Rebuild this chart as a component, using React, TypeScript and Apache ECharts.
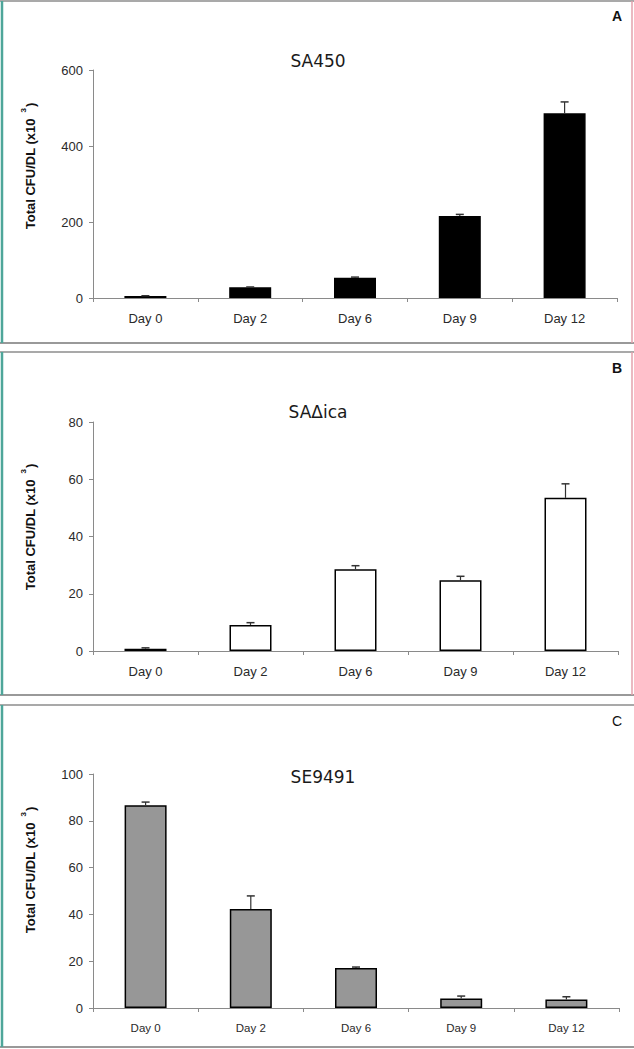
import React, { useEffect, useRef } from "react";
import * as echarts from "echarts";

const categories = ["Day 0", "Day 2", "Day 6", "Day 9", "Day 12"];
const sa450 = [5, 28, 53, 216, 486];
const sa450Err = [1, 1, 2, 4, 30];
const saIca = [0.8, 9.1, 28.6, 24.7, 53.5];
const saIcaErr = [0.3, 0.8, 1.2, 1.4, 4.9];
const se9491 = [86.6, 42.3, 17.1, 4.1, 3.6];
const se9491Err = [1.4, 5.6, 0.4, 1.0, 1.2];
const titles = ["SA450", "SA\u0394ica", "SE9491"];
const letters = ["A", "B", "C"];
const yMax = [600, 80, 100];
const yInterval = [200, 20, 20];

const panels = [
  { vals: sa450, errs: sa450Err, fill: "#000000", grid: { left: 93, top: 70, right: 17, bottom: 751 }, xFont: 13 },
  { vals: saIca, errs: saIcaErr, fill: "#ffffff", grid: { left: 93, top: 422, right: 16, bottom: 398 }, xFont: 13 },
  { vals: se9491, errs: se9491Err, fill: "#979797", grid: { left: 93, top: 774, right: 15, bottom: 41 }, xFont: 11.5 },
];

const AXIS = "#8a8a8a";
const FONT = "'Liberation Sans', Arial, sans-serif";

export default function App() {
  const ref = useRef<HTMLDivElement>(null);
  useEffect(() => {
    if (!ref.current) return;
    const chart = echarts.init(ref.current, null, { renderer: "svg" });
    const grids: any[] = [];
    const xAxes: any[] = [];
    const yAxes: any[] = [];
    const series: any[] = [];
    panels.forEach((p, i) => {
      grids.push({ ...p.grid, containLabel: false });
      xAxes.push({
        type: "category",
        gridIndex: i,
        data: categories,
        boundaryGap: true,
        axisLine: { lineStyle: { color: AXIS, width: 1 } },
        axisTick: { show: true, length: 4, lineStyle: { color: AXIS } },
        axisLabel: { color: "#2a2a2a", fontSize: p.xFont, fontFamily: FONT, margin: 14 },
      });
      yAxes.push({
        type: "value",
        gridIndex: i,
        min: 0,
        max: yMax[i],
        interval: yInterval[i],
        splitLine: { show: false },
        axisLine: { show: true, lineStyle: { color: AXIS, width: 1 } },
        axisTick: { show: true, length: 4, lineStyle: { color: AXIS } },
        axisLabel: { color: "#2a2a2a", fontSize: 13, fontFamily: FONT, margin: 10 },
      });
      series.push({
        type: "bar",
        xAxisIndex: i,
        yAxisIndex: i,
        data: p.vals,
        barWidth: 42,
        itemStyle: { color: p.fill, borderColor: "#000", borderWidth: 1.5 },
        z: 2,
      });
      series.push({
        type: "custom",
        xAxisIndex: i,
        yAxisIndex: i,
        data: p.vals.map((v, k) => [k, v, p.errs[k]]),
        encode: { x: 0, y: 1 },
        z: 3,
        renderItem: (params: any, api: any) => {
          const x = api.value(0);
          const v = api.value(1);
          const e = api.value(2);
          const p0 = api.coord([x, v]);
          const p1 = api.coord([x, v + e]);
          return {
            type: "group",
            children: [
              { type: "line", shape: { x1: p0[0], y1: p0[1], x2: p1[0], y2: p1[1] }, style: { stroke: "#333", lineWidth: 1.2 } },
              { type: "line", shape: { x1: p1[0] - 4, y1: p1[1], x2: p1[0] + 4, y2: p1[1] }, style: { stroke: "#333", lineWidth: 1.5 } },
            ],
          };
        },
      });
    });

    const frames = [
      { top: 1, bottom: 343, right: true },
      { top: 352, bottom: 695, right: true },
      { top: 705, bottom: 1047, right: false },
    ];
    const titleY = [61, 412, 777];
    const titleX = [318, 318, 323];
    const letterY = [16, 368, 721];
    const nameY = [166, 527, 870];
    const graphic: any[] = [];
    frames.forEach((f, i) => {
      graphic.push({ type: "line", shape: { x1: 0, y1: f.top, x2: 634, y2: f.top }, style: { stroke: "#8c8c8c", lineWidth: 1.5 } });
      graphic.push({ type: "line", shape: { x1: 0, y1: f.bottom, x2: 634, y2: f.bottom }, style: { stroke: "#777", lineWidth: 1.5 } });
      graphic.push({ type: "line", shape: { x1: 2, y1: f.top, x2: 2, y2: f.bottom }, style: { stroke: "#4ea69a", lineWidth: 2.5 } });
      if (f.right) {
        graphic.push({ type: "line", shape: { x1: 632, y1: f.top, x2: 632, y2: f.bottom }, style: { stroke: "#e3a2ac", lineWidth: 1.5 } });
      }
      graphic.push({
        type: "text",
        x: titleX[i],
        y: titleY[i],
        style: { text: titles[i], font: "17px 'DejaVu Sans', Verdana, sans-serif", fill: "#1a1a1a", align: "center", verticalAlign: "middle" },
      });
      graphic.push({
        type: "text",
        x: 617,
        y: letterY[i],
        style: {
          text: letters[i],
          font: (i < 2 ? "bold " : "") + "14px 'Liberation Sans', Arial, sans-serif",
          fill: "#111",
          align: "center",
          verticalAlign: "middle",
        },
      });
      graphic.push({
        type: "text",
        x: 28,
        y: nameY[i],
        rotation: Math.PI / 2,
        style: {
          text: "{a|Total CFU/DL (x10}{s|3}{a|)}",
          align: "center",
          verticalAlign: "middle",
          rich: {
            a: { fontSize: 13, fontWeight: "bold", fontFamily: FONT, fill: "#111", color: "#111", verticalAlign: "bottom", lineHeight: 17 },
            s: { fontSize: 8, fontWeight: "bold", fontFamily: FONT, fill: "#111", color: "#111", verticalAlign: "top", lineHeight: 17, padding: [0, 1, 0, 6] },
          },
        },
      });
    });

    chart.setOption({
      animation: false,
      backgroundColor: "#ffffff",
      grid: grids,
      xAxis: xAxes,
      yAxis: yAxes,
      series,
      graphic,
    });
    return () => chart.dispose();
  }, []);
  return <div ref={ref} style={{ position: "absolute", left: 0, top: 0, width: 634, height: 1049 }} />;
}
